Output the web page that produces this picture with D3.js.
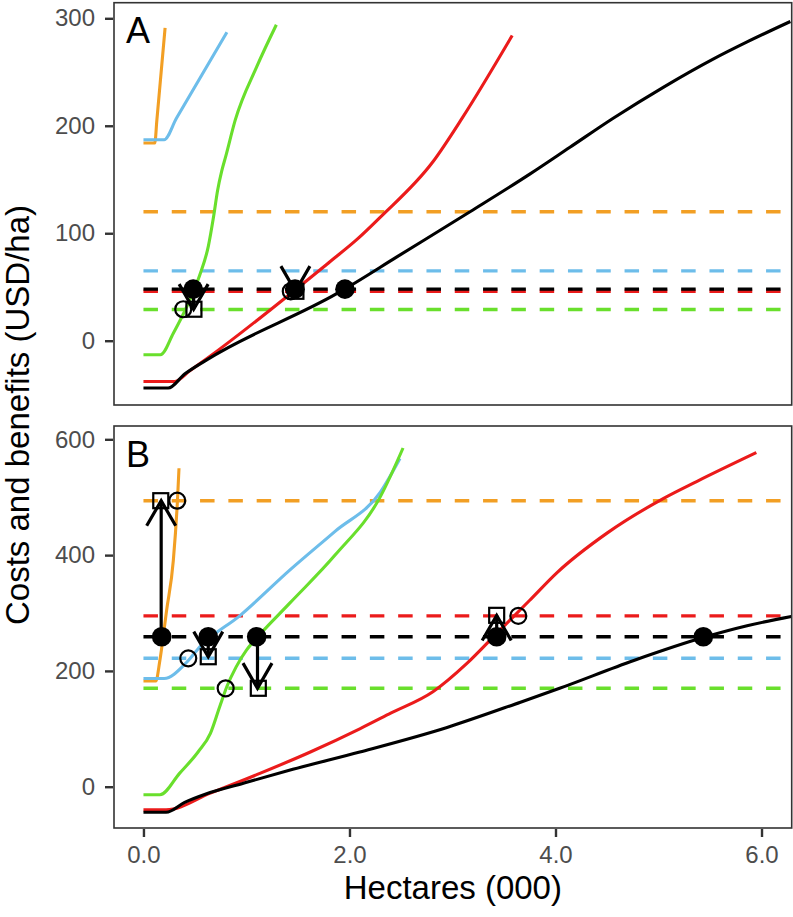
<!DOCTYPE html>
<html><head><meta charset="utf-8">
<script src="https://cdn.jsdelivr.net/npm/d3@7"></script>
<style>body{margin:0;background:#fff}text{font-family:"Liberation Sans",Arial,sans-serif}</style>
</head><body><svg id="c" width="793" height="917"></svg>
<script>
// ---------- data ----------
const xTicks = [0, 2, 4, 6];
const yTicksA = [0, 100, 200, 300];
const yTicksB = [0, 200, 400, 600];
const seriesNames = ["orange", "blue", "green", "red", "black"];
const seriesColors = ["#F29F24", "#6DBDEA", "#69DF2C", "#EB1B1B", "#000000"];

// Panel A curves [x (000 ha), USD/ha]
const aOrange = [[0,184],[0.11,184],[0.13,205],[0.21,291]];
const aBlue   = [[0,187],[0.2,187],[0.32,207],[0.81,287]];
const aGreen  = [[0,-13],[0.165,-13],[0.29,7],[0.45,38],[0.55,62],[0.63,88],[0.68,115],[0.72,140],[0.76,158],[0.8,172],[0.89,205],[1.1,255],[1.29,294]];
const aRed    = [[0,-38],[0.3,-38],[0.45,-28],[0.61,-17],[1.81,73.5],[2.07,94],[2.3,115],[2.81,166.5],[3.1,208],[3.58,284]];
const aBlack  = [[0,-44],[0.24,-44],[0.4,-31],[0.61,-18],[1.88,44],[1.97,49],[2.46,78],[3.17,120],[3.75,155],[4.14,180],[4.56,207],[5.05,236],[5.53,262],[5.86,278],[6.28,297]];
// Panel A price levels (same order as seriesNames)
const aPrices = [120, 65, 29, 46, 48];
// Panel A markers
const aFilled = [[0.483,48],[1.471,48],[1.956,48]];
const aSquares = [[0.49,29.3],[1.48,46]];
const aOpen = [[0.386,29.3],[1.43,46]];
const aArrows = [[0.487,48,29.3],[1.475,48,46]]; // x, from, to

// Panel B curves
const bOrange = [[0,182.5],[0.12,182.5],[0.16,219],[0.225,305],[0.29,391],[0.33,494],[0.345,550]];
const bBlue   = [[0,187],[0.2,187],[0.42,215],[0.55,242],[0.94,296],[1.42,374],[1.86,441],[2.3,509],[2.49,567]];
const bGreen  = [[0,-14],[0.16,-14],[0.35,23],[0.53,60],[0.65,92],[0.74,138],[0.81,173],[0.9,207],[1.0,236],[1.08,253],[1.42,317],[1.86,400],[2.3,501],[2.52,585]];
const bRed    = [[0,-40],[0.22,-40],[0.65,-11],[1.13,23],[1.62,60],[2.1,100],[2.4,127],[2.81,164],[3.14,213],[3.43,265],[3.75,322],[4.01,369],[4.5,438],[5.05,498],[5.37,527],[5.95,577]];
const bBlack  = [[0,-44],[0.22,-44],[0.4,-27],[0.6,-13],[0.97,6],[1.45,30],[2.1,60],[2.94,102],[3.66,146],[4.04,170],[4.76,218],[5.44,258],[5.86,278],[6.29,294]];
const bPrices = [494, 222, 170, 295, 259];
const bFilled = [[0.177,259],[0.629,259],[1.099,259],[3.429,259],[5.435,259]];
const bSquares = [[0.168,494],[0.629,224.5],[1.115,170],[3.429,296]];
const bOpen = [[0.328,494],[0.435,221.7],[0.798,170],[3.639,295]];
const bArrows = [[0.172,259,494],[0.629,259,224.5],[1.107,259,170],[3.429,259,296]];

// ---------- layout ----------
const svg = d3.select("#c");
const L = 114, R = 791.7;
const x = d3.scaleLinear().domain([-0.286, 6.293]).range([L, R]);
const panels = [
  {id:"A", top:2.7, bottom:405, dom:[-59.8,314.5], ticks:yTicksA, curves:[aOrange,aBlue,aGreen,aRed,aBlack], prices:aPrices,
   filled:aFilled, squares:aSquares, open:aOpen, arrows:aArrows},
  {id:"B", top:426, bottom:828, dom:[-71.3,623], ticks:yTicksB, curves:[bOrange,bBlue,bGreen,bRed,bBlack], prices:bPrices,
   filled:bFilled, squares:bSquares, open:bOpen, arrows:bArrows}
];
const drawOrder = [0,1,2,3,4];
const dashOrder = [0,1,2,3,4];

panels.forEach((p, pi) => {
  const y = d3.scaleLinear().domain(p.dom).range([p.bottom, p.top]);
  const g = svg.append("g");
  const clipId = "clip" + p.id;
  svg.append("clipPath").attr("id", clipId).append("rect")
    .attr("x", L).attr("y", p.top).attr("width", R - L).attr("height", p.bottom - p.top);
  const inner = g.append("g").attr("clip-path", `url(#${clipId})`);

  // dashed price lines
  dashOrder.forEach(i => {
    inner.append("line")
      .attr("x1", x(0)).attr("x2", x(6.6))
      .attr("y1", y(p.prices[i])).attr("y2", y(p.prices[i]))
      .attr("stroke", seriesColors[i]).attr("stroke-width", 3.4)
      .attr("stroke-dasharray", "14.5,13.8");
  });
  // curves
  const line = d3.line().x(d => x(d[0])).y(d => y(d[1])).curve(d3.curveMonotoneX);
  drawOrder.forEach(i => {
    inner.append("path").datum(p.curves[i]).attr("d", line)
      .attr("fill", "none").attr("stroke", seriesColors[i]).attr("stroke-width", 3.1)
      .attr("stroke-linejoin", "round");
  });
  // open circles
  inner.selectAll(".oc").data(p.open).join("circle")
    .attr("cx", d => x(d[0])).attr("cy", d => y(d[1])).attr("r", 8)
    .attr("fill", "none").attr("stroke", "#000").attr("stroke-width", 2.2);
  // squares
  const s = 15;
  inner.selectAll(".sq").data(p.squares).join("rect")
    .attr("x", d => x(d[0]) - s/2).attr("y", d => y(d[1]) - s/2)
    .attr("width", s).attr("height", s)
    .attr("fill", "none").attr("stroke", "#000").attr("stroke-width", 2.2);
  // filled circles
  inner.selectAll(".fc").data(p.filled).join("circle")
    .attr("cx", d => x(d[0])).attr("cy", d => y(d[1])).attr("r", 9.8)
    .attr("fill", "#000");
  // arrows
  const AL = 29, ang = 30 * Math.PI / 180;
  p.arrows.forEach(a => {
    const ax = x(a[0]), y1 = y(a[1]), y2 = y(a[2]);
    const dir = y2 > y1 ? 1 : -1;
    inner.append("line").attr("x1", ax).attr("x2", ax).attr("y1", y1).attr("y2", y2)
      .attr("stroke", "#000").attr("stroke-width", 3.2);
    const by = y2 - dir * AL * Math.cos(ang), hw = AL * Math.sin(ang);
    inner.append("path")
      .attr("d", `M${ax - hw},${by}L${ax},${y2}L${ax + hw},${by}`)
      .attr("fill", "none").attr("stroke", "#000").attr("stroke-width", 3.2)
      .attr("stroke-linejoin", "miter");
  });

  // border
  g.append("rect").attr("x", L).attr("y", p.top).attr("width", R - L).attr("height", p.bottom - p.top)
    .attr("fill", "none").attr("stroke", "#333").attr("stroke-width", 1.6);

  // y axis
  const ya = g.append("g").attr("transform", `translate(${L - 1},0)`)
    .call(d3.axisLeft(y).tickValues(p.ticks).tickSize(8).tickPadding(10).tickFormat(d3.format("d")));
  ya.select(".domain").remove();
  ya.selectAll(".tick line").attr("stroke", "#333").attr("stroke-width", 2.4);
  ya.selectAll(".tick text").attr("fill", "#4D4D4D").style("font-size", "24px")
    .style("font-family", '"Liberation Sans",Arial,sans-serif');

  // panel label
  g.append("text").attr("x", 126).attr("y", pi === 0 ? 42.7 : 466.7)
    .text(p.id).style("font-size", "36px").attr("fill", "#000");
});

// x axis
const xa = svg.append("g").attr("transform", `translate(0,${829})`)
  .call(d3.axisBottom(x).tickValues(xTicks).tickSize(8).tickPadding(9).tickFormat(d3.format(".1f")));
xa.select(".domain").remove();
xa.selectAll(".tick line").attr("stroke", "#333").attr("stroke-width", 2.4);
xa.selectAll(".tick text").attr("fill", "#4D4D4D").style("font-size", "24px")
  .style("font-family", '"Liberation Sans",Arial,sans-serif');

// titles
svg.append("text").attr("x", (L + R) / 2).attr("y", 899).attr("text-anchor", "middle")
  .style("font-size", "33px").text("Hectares (000)");
svg.append("text").attr("transform", `translate(29,415) rotate(-90)`).attr("text-anchor", "middle")
  .style("font-size", "33px").text("Costs and benefits (USD/ha)");
</script></body></html>
